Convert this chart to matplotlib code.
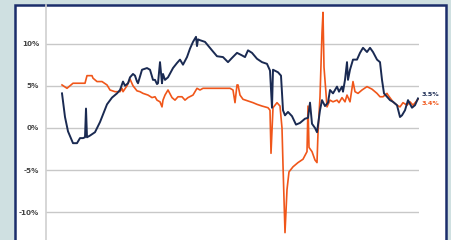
import matplotlib
matplotlib.use("Agg")
import matplotlib.pyplot as plt
from matplotlib.patches import Rectangle

# period index (arbitrary time units) and values in %
navy_t = [0, 3, 6, 11, 15, 18, 21, 23, 24, 25, 28, 33, 38, 45, 50, 55, 58, 61, 63, 66,
          68, 71, 73, 75, 76, 80, 85, 88, 91, 93, 95, 96, 98, 100, 101, 103, 106, 111, 115, 118,
          121, 125, 128, 131, 134, 135, 136, 138, 143, 150, 155, 161, 166, 170, 175, 180, 183, 186, 190, 195,
          200, 205, 208, 210, 211, 216, 219, 221, 223, 226, 230, 234, 238, 243, 246, 248, 250, 253, 255, 258,
          260, 263, 266, 268, 271, 275, 277, 280, 281, 283, 285, 286, 288, 291, 295, 298, 301, 305, 308, 311,
          315, 318, 320, 322, 325, 328, 331, 335, 338, 340, 343, 346, 350, 353, 356]
navy_v = [4.1, 1.3, -0.4, -1.8, -1.8, -1.2, -1.2, -1.1, 2.3, -1.1, -0.9, -0.5, 0.7, 2.8, 3.6, 4.1, 4.5, 5.5, 5.0, 5.3,
          6.0, 6.4, 6.2, 5.5, 5.3, 6.9, 7.1, 6.9, 5.7, 5.7, 5.2, 5.3, 7.8, 5.3, 6.4, 5.7, 6.0, 7.1, 7.7, 8.1,
          7.5, 8.4, 9.4, 10.2, 10.8, 9.7, 10.5, 10.4, 10.2, 9.2, 8.5, 8.4, 7.8, 8.3, 8.9, 8.6, 8.4, 9.2, 8.9, 8.2,
          7.8, 7.6, 6.8, 2.4, 6.9, 6.6, 6.2, 2.1, 1.5, 1.9, 1.4, 0.4, 0.6, 1.1, 1.2, 3.0, 0.5, 0.0, -0.5, 2.1,
          3.3, 2.6, 3.0, 4.5, 4.1, 4.9, 4.3, 4.9, 4.3, 5.7, 7.8, 5.7, 6.9, 8.1, 8.1, 8.9, 9.5, 9.0, 9.5, 9.0,
          8.1, 7.8, 5.7, 4.1, 3.7, 3.3, 3.1, 2.7, 1.3, 1.5, 2.1, 3.3, 2.4, 2.7, 3.5]

orange_t = [0, 5, 8, 11, 16, 23, 25, 30, 31, 35, 40, 45, 48, 53, 58, 60, 61, 65, 68, 71,
            75, 78, 81, 86, 90, 93, 95, 98, 100, 101, 103, 106, 110, 113, 116, 120, 123, 126, 131, 135,
            138, 141, 148, 158, 168, 171, 173, 175, 176, 178, 181, 186, 191, 195, 200, 206, 208, 209, 211, 215,
            218, 220, 221, 223, 225, 227, 231, 236, 241, 245, 246, 247, 250, 253, 255, 256, 258, 260, 261, 262,
            264, 265, 268, 271, 275, 277, 280, 283, 285, 288, 291, 293, 296, 300, 305, 310, 315, 318, 321, 325,
            326, 331, 335, 338, 341, 345, 348, 351, 356]
orange_v = [5.1, 4.7, 5.0, 5.3, 5.3, 5.3, 6.2, 6.2, 5.9, 5.5, 5.5, 5.1, 4.5, 4.3, 4.3, 4.7, 4.3, 5.0, 5.8, 5.0,
            4.4, 4.3, 4.1, 3.9, 3.6, 3.7, 3.3, 3.1, 2.5, 3.3, 3.9, 4.5, 3.6, 3.3, 3.7, 3.7, 3.3, 3.6, 3.9, 4.7,
            4.5, 4.7, 4.7, 4.7, 4.7, 4.5, 3.0, 5.1, 5.1, 3.9, 3.4, 3.2, 3.0, 2.8, 2.6, 2.4, 2.1, -3.0, 2.4, 3.0,
            2.6, 0.0, -4.4, -12.4, -7.3, -5.2, -4.6, -4.1, -3.7, -2.8, 2.6, -2.3, -2.8, -3.8, -4.1, -0.6, 3.7, 11.3, 13.7, 7.2,
            4.1, 2.5, 3.3, 3.1, 3.3, 3.0, 3.6, 3.1, 3.9, 3.1, 5.5, 4.3, 4.1, 4.5, 4.9, 4.6, 4.1, 3.7, 3.7, 4.1,
            3.9, 3.1, 2.7, 2.5, 3.0, 2.7, 3.1, 2.7, 3.4]

ytick_vals = [-10, -5, 0, 5, 10]
ytick_labels = ["-10%", "-5%", "0%", "5%", "10%"]
end_labels = ["3.5%", "3.4%"]

W, H = 451, 240
fig = plt.figure(figsize=(W / 100, H / 100), dpi=100)
fig.patch.set_facecolor("#cfe0e1")

# white panel with navy border
panel = Rectangle((15 / W, -0.05), (446 - 15) / W, (H - 5) / H + 0.05,
                  transform=fig.transFigure, facecolor="white",
                  edgecolor="#1b2d6b", linewidth=1.8, zorder=-10)
fig.patches.append(panel)

ax = fig.add_axes([46 / W, 0, (419 - 46) / W, (H - 5) / H])
ax.set_zorder(1)
ax.set_facecolor("none")
ax.set_xlim(-16, 357)
ax.set_ylim(-13.27, 14.57)

for s in ["top", "right", "bottom"]:
    ax.spines[s].set_visible(False)
ax.spines["left"].set_color("#d0d0d0")
ax.spines["left"].set_linewidth(1.2)

ax.set_yticks(ytick_vals)
ax.set_yticklabels(ytick_labels)
ax.tick_params(axis="y", length=0, pad=5, labelsize=5.2, labelcolor="#444444")
for lbl in ax.get_yticklabels():
    lbl.set_fontweight("bold")
ax.set_xticks([])
ax.grid(axis="y", color="#c8c8c8", linewidth=1.0)
ax.set_axisbelow(True)

ax.plot(orange_t, orange_v, color="#f0561a", linewidth=1.2, zorder=3)
ax.plot(navy_t, navy_v, color="#1a2a52", linewidth=1.4, zorder=4)

ax.text(navy_t[-1] + 4, navy_v[-1] + 0.45, end_labels[0], color="#1a2a52",
        fontsize=4.6, fontweight="bold", va="center", ha="left", clip_on=False)
ax.text(orange_t[-1] + 4, orange_v[-1] - 0.5, end_labels[1], color="#f0561a",
        fontsize=4.6, fontweight="bold", va="center", ha="left", clip_on=False)

fig.savefig("out.png", dpi=100, facecolor=fig.get_facecolor())
